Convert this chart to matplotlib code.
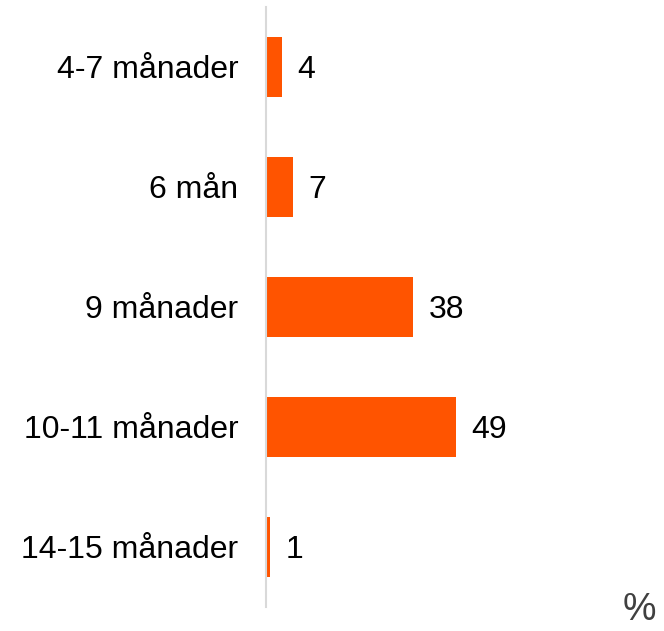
import matplotlib.pyplot as plt

categories = ["4-7 månader", "6 mån", "9 månader", "10-11 månader", "14-15 månader"]
values = [4, 7, 38, 49, 1]

BAR_COLOR = "#ff5400"
AXIS_COLOR = "#d9d9d9"

plt.rcParams["font.family"] = ["Liberation Sans", "DejaVu Sans"]

fig = plt.figure(figsize=(6.64, 6.31), dpi=100)
ax = fig.add_axes([266 / 664, 1 - 607 / 631, 388 / 664, 600 / 631])

y = list(range(len(categories)))
ax.barh(y, values, height=0.5, color=BAR_COLOR)
ax.set_ylim(len(categories) - 0.5, -0.5)
ax.set_xlim(0, 100)

for yi, v in zip(y, values):
    ax.text(v + 4.0, yi, str(v), va="center_baseline", ha="left", fontsize=23, color="black")

ax.set_yticks(y)
ax.set_yticklabels(categories, fontsize=23, va="center_baseline")
ax.tick_params(axis="y", length=0, pad=20)
ax.set_xticks([])

for side in ["top", "right", "bottom"]:
    ax.spines[side].set_visible(False)
ax.spines["left"].set_color(AXIS_COLOR)
ax.spines["left"].set_linewidth(1.5)

# percent sign sits in the bottom-right corner
fig.text(656 / 664, 3 / 631, "%", ha="right", va="bottom", fontsize=27, color="#404040")

fig.savefig("out.png", dpi=100)
